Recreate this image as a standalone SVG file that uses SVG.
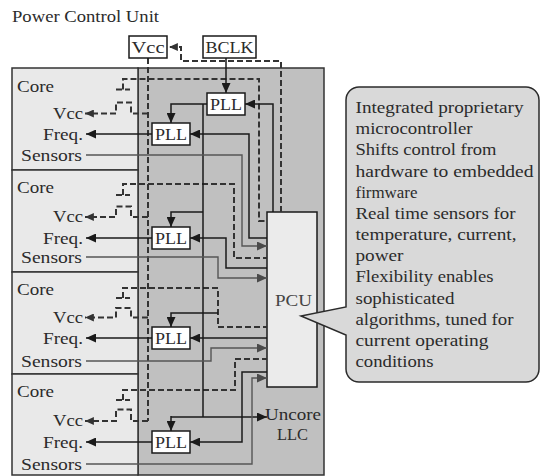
<svg xmlns="http://www.w3.org/2000/svg" width="540" height="476" viewBox="0 0 540 476">
<style>
text{font-family:"Liberation Serif","Times New Roman",serif;font-size:16px;fill:#2b2b2b}
.box{fill:#fff;stroke:#1a1a1a;stroke-width:1.5}
.core{fill:#e9e9e9;stroke:#333;stroke-width:1.5}
.ln{fill:none;stroke:#1a1a1a;stroke-width:1.5}
.sn{fill:none;stroke:#555;stroke-width:1.4}
.ds{fill:none;stroke:#333;stroke-width:2;stroke-dasharray:6 3}
.mid{text-anchor:middle}
.end{text-anchor:end}
</style>
<defs>
<marker id="ah" viewBox="0 0 10 9" refX="10" refY="4.5" markerWidth="10" markerHeight="9" markerUnits="userSpaceOnUse" orient="auto"><path d="M0,0 L10,4.5 L0,9 z" fill="#1a1a1a"/></marker>
<marker id="ahg" viewBox="0 0 10 9" refX="10" refY="4.5" markerWidth="10" markerHeight="9" markerUnits="userSpaceOnUse" orient="auto"><path d="M0,0 L10,4.5 L0,9 z" fill="#4a4a4a"/></marker>
<marker id="ahd" viewBox="0 0 10 9" refX="10" refY="4.5" markerWidth="9" markerHeight="8" markerUnits="userSpaceOnUse" orient="auto"><path d="M0,0 L10,4.5 L0,9 z" fill="#333"/></marker>
</defs>
<rect width="540" height="476" fill="#fff"/>
<text x="12" y="22" textLength="147" lengthAdjust="spacingAndGlyphs">Power Control Unit</text>

<g id="uncore">
<rect x="138" y="68" width="186" height="407" fill="#c0c0c0" stroke="#333" stroke-width="1.5"/>
<text x="265" y="420" textLength="56" lengthAdjust="spacingAndGlyphs">Uncore</text>
<text x="277" y="440" textLength="31" lengthAdjust="spacingAndGlyphs">LLC</text>
</g>

<g id="core1">
<rect class="core" x="12" y="68" width="126" height="102"/>
<text x="17" y="92" textLength="37" lengthAdjust="spacingAndGlyphs">Core</text>
<text x="83" y="118.5" class="end" textLength="30" lengthAdjust="spacingAndGlyphs">Vcc</text>
<text x="83" y="140" class="end" textLength="40" lengthAdjust="spacingAndGlyphs">Freq.</text>
<text x="82" y="161" class="end" textLength="61" lengthAdjust="spacingAndGlyphs">Sensors</text>
</g>
<g id="core2">
<rect class="core" x="12" y="170" width="126" height="102"/>
<text x="17" y="193" textLength="37" lengthAdjust="spacingAndGlyphs">Core</text>
<text x="83" y="222" class="end" textLength="30" lengthAdjust="spacingAndGlyphs">Vcc</text>
<text x="83" y="244" class="end" textLength="40" lengthAdjust="spacingAndGlyphs">Freq.</text>
<text x="82" y="263" class="end" textLength="61" lengthAdjust="spacingAndGlyphs">Sensors</text>
</g>
<g id="core3">
<rect class="core" x="12" y="272" width="126" height="102"/>
<text x="17" y="295" textLength="37" lengthAdjust="spacingAndGlyphs">Core</text>
<text x="83" y="322.5" class="end" textLength="30" lengthAdjust="spacingAndGlyphs">Vcc</text>
<text x="83" y="344" class="end" textLength="40" lengthAdjust="spacingAndGlyphs">Freq.</text>
<text x="82" y="367" class="end" textLength="61" lengthAdjust="spacingAndGlyphs">Sensors</text>
</g>
<g id="core4">
<rect class="core" x="12" y="374" width="126" height="101"/>
<text x="17" y="397" textLength="37" lengthAdjust="spacingAndGlyphs">Core</text>
<text x="83" y="426" class="end" textLength="30" lengthAdjust="spacingAndGlyphs">Vcc</text>
<text x="83" y="448" class="end" textLength="40" lengthAdjust="spacingAndGlyphs">Freq.</text>
<text x="82" y="470" class="end" textLength="61" lengthAdjust="spacingAndGlyphs">Sensors</text>
</g>

<g id="pcu">
<rect x="267" y="212" width="50" height="175" fill="#ebebeb" stroke="#1a1a1a" stroke-width="1.5"/>
<text x="275" y="306" textLength="37" lengthAdjust="spacingAndGlyphs" style="fill:#444">PCU</text>
</g>

<g id="connectors">
<!-- Vcc distribution (dashed) -->
<path class="ds" d="M281,212 V61 H181 V47 H169" marker-end="url(#ahd)"/>
<path class="ds" d="M148,58 V421"/>
<path class="ds" d="M148,113.5 H131 V102.5 H116 V113.5 H85" marker-end="url(#ahd)"/>
<path class="ds" d="M148,217 H131 V206.5 H116 V217 H85" marker-end="url(#ahd)"/>
<path class="ds" d="M148,317.5 H131 V308 H116 V317.5 H85" marker-end="url(#ahd)"/>
<path class="ds" d="M148,421 H131 V409.5 H116 V421 H85" marker-end="url(#ahd)"/>
<!-- core voltage feedback (dashed) -->
<path class="ds" d="M116,89.5 H130 M123,89.5 V79 H259 V221 H267"/>
<path class="ds" d="M116,195 H130 M123,195 V184 H234 V258 H267"/>
<path class="ds" d="M116,298 H130 M123,298 V288 H218 V327 H267"/>
<path class="ds" d="M116,400 H130 M123,400 V390 H235 V359 H267"/>
<!-- clock distribution -->
<path class="ln" d="M226,58 V93" marker-end="url(#ah)"/>
<path class="ln" d="M207,104 H171 V123" marker-end="url(#ah)"/>
<path class="ln" d="M203,104 V417"/>
<path class="ln" d="M203,212 H171 V227" marker-end="url(#ah)"/>
<path class="ln" d="M218,313 H171 V327" marker-end="url(#ah)"/>
<path class="ln" d="M171,417 H267" marker-end="url(#ah)"/>
<path class="ln" d="M171,416 V431" marker-end="url(#ah)"/>
<!-- PCU to PLLs -->
<path class="ln" d="M273,212 V104 H245" marker-end="url(#ah)"/>
<path class="ln" d="M267,238 H249 V134 H190" marker-end="url(#ah)"/>
<path class="ln" d="M267,268 H226 V238 H190" marker-end="url(#ah)"/>
<path class="ln" d="M267,338 H190" marker-end="url(#ah)"/>
<path class="ln" d="M267,372 H242 V442 H190" marker-end="url(#ah)"/>
<!-- PLL to Freq -->
<path class="ln" d="M152,134 H86" marker-end="url(#ah)"/>
<path class="ln" d="M152,238 H86" marker-end="url(#ah)"/>
<path class="ln" d="M152,338 H86" marker-end="url(#ah)"/>
<path class="ln" d="M152,442 H86" marker-end="url(#ah)"/>
<!-- Sensors -->
<path class="sn" d="M86,155 H242 V246 H267" marker-end="url(#ahg)"/>
<path class="sn" d="M86,257 H218 V278 H267" marker-end="url(#ahg)"/>
<path class="sn" d="M86,361 H211 V348 H267" marker-end="url(#ahg)"/>
<path class="sn" d="M86,464 H252 V378 H267" marker-end="url(#ahg)"/>
</g>

<g id="vcc-box">
<rect class="box" x="129" y="36" width="38" height="22"/>
<text x="148" y="53" class="mid" textLength="33" lengthAdjust="spacingAndGlyphs">Vcc</text>
</g>
<g id="bclk-box">
<rect class="box" x="203" y="36" width="53" height="22"/>
<text x="229.5" y="53" class="mid" textLength="48" lengthAdjust="spacingAndGlyphs">BCLK</text>
</g>
<g id="pll-main">
<rect class="box" x="207" y="93" width="38" height="22"/>
<text x="226" y="110" class="mid" textLength="32" lengthAdjust="spacingAndGlyphs">PLL</text>
</g>
<g id="pll1">
<rect class="box" x="152" y="123" width="38" height="22"/>
<text x="171" y="140" class="mid" textLength="32" lengthAdjust="spacingAndGlyphs">PLL</text>
</g>
<g id="pll2">
<rect class="box" x="152" y="227" width="38" height="22"/>
<text x="171" y="244" class="mid" textLength="32" lengthAdjust="spacingAndGlyphs">PLL</text>
</g>
<g id="pll3">
<rect class="box" x="152" y="327" width="38" height="22"/>
<text x="171" y="344" class="mid" textLength="32" lengthAdjust="spacingAndGlyphs">PLL</text>
</g>
<g id="pll4">
<rect class="box" x="152" y="431" width="38" height="22"/>
<text x="171" y="448" class="mid" textLength="32" lengthAdjust="spacingAndGlyphs">PLL</text>
</g>

<g id="callout">
<path d="M359,87 H526 A13,13 0 0 1 539,100 V369 A13,13 0 0 1 526,382 H359 A13,13 0 0 1 346,369 V335 L301,316 L346,307 V100 A13,13 0 0 1 359,87 Z" fill="#d9d9d9" stroke="#2b2b2b" stroke-width="1.5"/>
<text x="355.5" y="113" textLength="168" lengthAdjust="spacingAndGlyphs">Integrated proprietary</text>
<text x="355.5" y="134.2" textLength="117" lengthAdjust="spacingAndGlyphs">microcontroller</text>
<text x="355.5" y="155.3" textLength="141" lengthAdjust="spacingAndGlyphs">Shifts control from</text>
<text x="355.5" y="176.5" textLength="178" lengthAdjust="spacingAndGlyphs">hardware to embedded</text>
<text x="355.5" y="197.7" textLength="62" lengthAdjust="spacingAndGlyphs">firmware</text>
<text x="355.5" y="218.8" textLength="160" lengthAdjust="spacingAndGlyphs">Real time sensors for</text>
<text x="355.5" y="240" textLength="161" lengthAdjust="spacingAndGlyphs">temperature, current,</text>
<text x="355.5" y="261.2" textLength="48" lengthAdjust="spacingAndGlyphs">power</text>
<text x="355.5" y="282.3" textLength="138" lengthAdjust="spacingAndGlyphs">Flexibility enables</text>
<text x="355.5" y="303.5" textLength="99" lengthAdjust="spacingAndGlyphs">sophisticated</text>
<text x="355.5" y="324.7" textLength="158" lengthAdjust="spacingAndGlyphs">algorithms, tuned for</text>
<text x="355.5" y="345.8" textLength="133" lengthAdjust="spacingAndGlyphs">current operating</text>
<text x="355.5" y="367" textLength="78" lengthAdjust="spacingAndGlyphs">conditions</text>
</g>
</svg>
